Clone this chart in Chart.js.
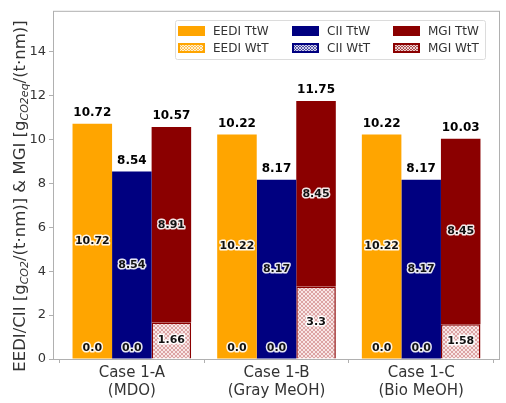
<!DOCTYPE html>
<html>
<head>
<meta charset="utf-8">
<script src="https://cdn.jsdelivr.net/npm/chart.js@4"></script>
<style>
  html, body { margin: 0; padding: 0; background: #fff; }
  #wrap { width: 506px; height: 403px; }
</style>
</head>
<body>
<div id="wrap"><canvas id="chart" width="506" height="403"></canvas></div>
<script>
const cases = [['Case 1-A', '(MDO)'], ['Case 1-B', '(Gray MeOH)'], ['Case 1-C', '(Bio MeOH)']];
const eediTtW = [10.72, 10.22, 10.22];
const eediWtT = [0.0, 0.0, 0.0];
const ciiTtW = [8.54, 8.17, 8.17];
const ciiWtT = [0.0, 0.0, 0.0];
const mgiTtW = [8.91, 8.45, 8.45];
const mgiWtT = [1.66, 3.3, 1.58];
const yTicks = [0, 2, 4, 6, 8, 10, 12, 14];
const yMax = 15.86;

const ORANGE = '#ffa500', NAVY = '#000080', DARKRED = '#8b0000';
const FONT = "'DejaVu Sans', sans-serif";

function hatch(bg, line, size, lw) {
  const c = document.createElement('canvas');
  c.width = size; c.height = size;
  const g = c.getContext('2d');
  g.fillStyle = bg;
  g.fillRect(0, 0, size, size);
  g.strokeStyle = line;
  g.lineWidth = lw;
  g.beginPath();
  for (let k = -1; k <= 1; k++) {
    g.moveTo(k * size, size); g.lineTo(k * size + size, 0);
    g.moveTo(k * size, 0); g.lineTo(k * size + size, size);
  }
  g.stroke();
  return g.createPattern(c, 'repeat');
}

const ctxMain = document.getElementById('chart').getContext('2d');

function fmt(v) {
  v = Math.round(v * 100) / 100;
  return Number.isInteger(v) ? v.toFixed(1) : String(v);
}

const series = [
  { label: 'EEDI WtT', data: eediWtT, stack: 'eedi', color: ORANGE, wtt: true },
  { label: 'EEDI TtW', data: eediTtW, stack: 'eedi', color: ORANGE, wtt: false },
  { label: 'CII WtT', data: ciiWtT, stack: 'cii', color: NAVY, wtt: true },
  { label: 'CII TtW', data: ciiTtW, stack: 'cii', color: NAVY, wtt: false },
  { label: 'MGI WtT', data: mgiWtT, stack: 'mgi', color: DARKRED, wtt: true },
  { label: 'MGI TtW', data: mgiTtW, stack: 'mgi', color: DARKRED, wtt: false }
];

const datasets = series.map(s => ({
  label: s.label,
  data: s.data.map((v, i) => ({ x: i, y: v })),
  values: s.data,
  stack: s.stack,
  baseColor: s.color,
  wtt: s.wtt,
  backgroundColor: s.wtt ? hatch('#f8e6e6', 'rgba(170,40,40,0.7)', 4, 0.5) : s.color,
  borderColor: s.color,
  borderWidth: s.wtt ? 1.5 : 0,
  barPercentage: 1,
  categoryPercentage: 0.82
}));

const legendOrder = ['EEDI TtW', 'CII TtW', 'MGI TtW', 'EEDI WtT', 'CII WtT', 'MGI WtT'];

const extras = {
  id: 'extras',
  afterDatasetsDraw(chart) {
    const ctx = chart.ctx;
    const ys = chart.scales.y;
    const area = chart.chartArea;
    ctx.save();
    // frame
    ctx.strokeStyle = '#b0b0b0';
    ctx.lineWidth = 1;
    ctx.strokeRect(area.left + 0.5, area.top + 0.5, area.right - area.left - 1, area.bottom - area.top);

    // segment labels
    ctx.font = 'bold 11px ' + FONT;
    ctx.textAlign = 'center';
    ctx.textBaseline = 'middle';
    ctx.lineJoin = 'round';
    chart.data.datasets.forEach((ds, i) => {
      const meta = chart.getDatasetMeta(i);
      meta.data.forEach((el, j) => {
        const v = ds.values[j];
        const y = Math.min((el.y + el.base) / 2, ys.getPixelForValue(0.5));
        ctx.strokeStyle = 'rgba(255,255,255,0.9)';
        ctx.lineWidth = 3;
        ctx.strokeText(fmt(v), el.x, y);
        ctx.fillStyle = '#111';
        ctx.fillText(fmt(v), el.x, y);
      });
    });

    // totals
    ctx.font = 'bold 12px ' + FONT;
    ctx.textBaseline = 'bottom';
    ctx.fillStyle = '#000';
    chart.data.datasets.forEach((ds, i) => {
      if (ds.wtt) return;
      const meta = chart.getDatasetMeta(i);
      const below = chart.data.datasets[i - 1].values;
      meta.data.forEach((el, j) => {
        ctx.fillText(fmt(ds.values[j] + below[j]), el.x, el.y - 5);
      });
    });

    // legend
    const lx = 175, ly = 20, lw = 310, lh = 39;
    ctx.fillStyle = 'rgba(255,255,255,0.85)';
    ctx.strokeStyle = '#dcdcdc';
    ctx.lineWidth = 1;
    ctx.beginPath();
    ctx.roundRect(lx + 0.5, ly + 0.5, lw, lh, 2);
    ctx.fill();
    ctx.stroke();
    const colX = [178, 292, 393];
    const rowY = [31, 48];
    ctx.font = '12px ' + FONT;
    ctx.textAlign = 'left';
    ctx.textBaseline = 'middle';
    legendOrder.forEach((name, k) => {
      const ds = chart.data.datasets.find(d => d.label === name);
      const x = colX[k % 3], y = rowY[Math.floor(k / 3)];
      ctx.fillStyle = ds.baseColor;
      ctx.fillRect(x, y - 5, 27, 10);
      if (ds.wtt) {
        ctx.fillStyle = hatch('rgba(255,255,255,0.3)', '#ffffff', 3, 0.7);
        ctx.fillRect(x + 2, y - 3, 23, 6);
      }
      ctx.fillStyle = '#333';
      ctx.fillText(name, x + 35, y + 0.5);
    });

    // y axis title with subscripts
    const parts = [
      ['EEDI/CII [g', false], ['CO2', true], ['/(t\u00b7nm)] & MGI [g', false],
      ['CO2eq', true], ['/(t\u00b7nm)]', false]
    ];
    const norm = '16.5px ' + FONT, sub = 'italic 11px ' + FONT;
    let total = 0;
    parts.forEach(p => { ctx.font = p[1] ? sub : norm; total += ctx.measureText(p[0]).width; });
    ctx.translate(20, 196);
    ctx.rotate(-Math.PI / 2);
    ctx.fillStyle = '#333';
    ctx.textBaseline = 'alphabetic';
    let cx = -total / 2;
    parts.forEach(p => {
      ctx.font = p[1] ? sub : norm;
      ctx.fillText(p[0], cx, p[1] ? 8 : 5);
      cx += ctx.measureText(p[0]).width;
    });
    ctx.restore();
  }
};

new Chart(ctxMain, {
  type: 'bar',
  data: { datasets: datasets },
  options: {
    responsive: false,
    animation: false,
    layout: { padding: { top: 8, right: 6, left: 0, bottom: 0 } },
    plugins: { legend: { display: false }, tooltip: { enabled: false } },
    scales: {
      x: {
        type: 'linear',
        stacked: true,
        offset: false,
        min: -0.545,
        max: 2.545,
        grid: { display: true, drawOnChartArea: false, drawTicks: true, tickLength: 4, color: '#b0b0b0' },
        border: { display: false },
        ticks: {
          color: '#333', font: { family: FONT, size: 15, lineHeight: 1.2 }, padding: 1, maxRotation: 0,
          callback: (v) => cases[v]
        },
        afterBuildTicks: (axis) => { axis.ticks = cases.map((c, i) => ({ value: i })); },
        afterFit: (axis) => { axis.height = 44; }
      },
      y: {
        stacked: true,
        min: 0,
        max: yMax,
        grid: { display: true, drawOnChartArea: false, drawTicks: true, tickLength: 4, color: '#b0b0b0' },
        border: { display: false },
        ticks: { color: '#333', font: { family: FONT, size: 13 }, padding: 3 },
        afterBuildTicks: (axis) => { axis.ticks = yTicks.map(v => ({ value: v })); },
        afterFit: (axis) => { axis.width = 53; }
      }
    }
  },
  plugins: [extras]
});
</script>
</body>
</html>
